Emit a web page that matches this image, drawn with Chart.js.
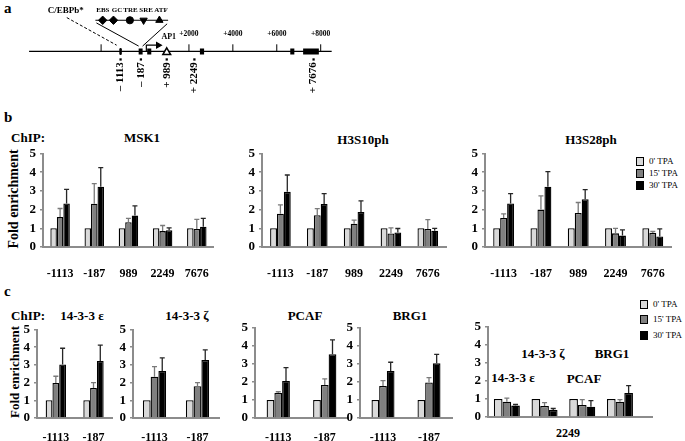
<!DOCTYPE html>
<html><head><meta charset="utf-8">
<script src="https://cdn.jsdelivr.net/npm/chart.js@4.4.0/dist/chart.umd.min.js"></script>
<style>
html,body{margin:0;padding:0;background:#fff;width:685px;height:441px;overflow:hidden;font-family:'Liberation Serif','Times New Roman',serif;}
.abs{position:absolute;white-space:nowrap;color:#000;line-height:1;}
.b{font-weight:bold;}
.c{transform:translate(-50%,-50%);}
canvas{position:absolute;}
.lg{position:absolute;font-size:9px;line-height:1;white-space:nowrap;}
.lg span{display:inline-block;width:6px;height:7px;border:1px solid #000;vertical-align:middle;margin-right:5px;}
</style></head><body>

<div class="abs b" style="left:4px;top:1px;font-size:15px;">a</div>
<div class="abs b" style="left:4px;top:110px;font-size:15px;">b</div>
<div class="abs b" style="left:4px;top:284px;font-size:15px;">c</div>

<div class="abs b c" style="left:28px;top:137px;font-size:13px;">ChIP:</div>
<div class="abs b c" style="left:142px;top:137px;font-size:13px;">MSK1</div>
<div class="abs b c" style="left:363px;top:139px;font-size:13px;">H3S10ph</div>
<div class="abs b c" style="left:591px;top:139px;font-size:13px;">H3S28ph</div>
<div class="abs b c" style="left:14px;top:199px;font-size:14px;transform:translate(-50%,-50%) rotate(-90deg);">Fold enrichment</div>

<div class="abs b c" style="left:28px;top:315px;font-size:13px;">ChIP:</div>
<div class="abs b c" style="left:82px;top:315px;font-size:13px;">14-3-3 ε</div>
<div class="abs b c" style="left:187px;top:315px;font-size:13px;">14-3-3 ζ</div>
<div class="abs b c" style="left:305px;top:315px;font-size:13px;">PCAF</div>
<div class="abs b c" style="left:410px;top:315px;font-size:13px;">BRG1</div>
<div class="abs b c" style="left:14px;top:372px;font-size:13px;transform:translate(-50%,-50%) rotate(-90deg);">Fold enrichment</div>

<div class="abs b c" style="left:513px;top:377px;font-size:13px;">14-3-3 ε</div>
<div class="abs b c" style="left:543px;top:353px;font-size:13px;">14-3-3 ζ</div>
<div class="abs b c" style="left:584px;top:378px;font-size:13px;">PCAF</div>
<div class="abs b c" style="left:612px;top:353px;font-size:13px;">BRG1</div>
<div class="abs b c" style="left:568px;top:433px;font-size:12px;">2249</div>

<div id="legB"></div><div id="legC"></div>

<script>
// ---------- data ----------
const TIMES = ["0' TPA", "15' TPA", "30' TPA"];

// panel a (gene map, bp relative to TSS)
const geneSpan = [-5280, 8500];
const scaleTicks = [-2000, 2000, 4000, 6000, 8000];
const scaleTickLabels = ['', '+2000', '+4000', '+6000', '+8000'];
const exonStart = [-290, 100, 2500, 6615, 7200];
const exonEnd = [-110, 285, 2690, 6800, 7916];
const ampliconPos = [-1113, -187, 989, 2249, 7676];
const ampliconText = ['\u2013 1113', '\u2013 187', '+ 989', '+ 2249', '+ 7676'];
const cebpSite = -1113;
const ap1Site = 989;
const insetRange = [-300, 50];
const insetNames = ['EBS', 'GC', 'TRE', 'SRE', 'ATF'];
const insetPos = [-265, -213, -134, -68, 8];
const insetLabelPos = [-264, -196, -131, -56, 16];

// panel b
const regionsB = ['-1113', '-187', '989', '2249', '7676'];
const msk1_0 = [1, 1, 1, 1, 1];
const msk1_15 = [1.6, 2.31, 1.32, 0.85, 0.96];
const msk1_15err = [0.46, 1.08, 0.21, 0.3, 0.52];
const msk1_30 = [2.33, 3.22, 1.68, 0.9, 1.08];
const msk1_30err = [0.75, 1.03, 0.52, 0.12, 0.45];

const s10_0 = [1, 1, 1, 1, 1];
const s10_15 = [1.78, 1.7, 1.24, 0.72, 0.96];
const s10_15err = [0.47, 0.35, 0.2, 0.3, 0.5];
const s10_30 = [2.95, 2.3, 1.87, 0.78, 0.87];
const s10_30err = [0.9, 0.55, 0.6, 0.21, 0.13];

const s28_0 = [1, 1, 1, 1, 1];
const s28_15 = [1.55, 2.0, 1.82, 0.73, 0.75];
const s28_15err = [0.22, 0.73, 0.56, 0.27, 0.08];
const s28_30 = [2.33, 3.22, 2.55, 0.61, 0.56];
const s28_30err = [0.52, 0.81, 0.52, 0.31, 0.41];

// panel c
const regionsC = ['-1113', '-187'];
const eps_0 = [1, 1];
const eps_15 = [1.98, 1.7];
const eps_15err = [0.38, 0.3];
const eps_30 = [3.02, 3.22];
const eps_30err = [0.92, 0.9];

const zeta_0 = [1, 1];
const zeta_15 = [2.33, 1.79];
const zeta_15err = [0.57, 0.21];
const zeta_30 = [2.66, 3.27];
const zeta_30err = [0.74, 0.58];

const pcaf_0 = [1, 1];
const pcaf_15 = [1.38, 1.83];
const pcaf_15err = [0.07, 0.33];
const pcaf_30 = [2.05, 3.52];
const pcaf_30err = [0.73, 0.8];

const brg1_0 = [1, 1];
const brg1_15 = [1.77, 1.96];
const brg1_15err = [0.3, 0.27];
const brg1_30 = [2.6, 3.02];
const brg1_30err = [0.48, 0.5];

const factors2249 = ['14-3-3 ε', '14-3-3 ζ', 'PCAF', 'BRG1'];
const r2249_0 = [1, 1, 1, 1];
const r2249_15 = [0.84, 0.61, 0.66, 0.84];
const r2249_15err = [0.2, 0.18, 0.3, 0.12];
const r2249_30 = [0.63, 0.39, 0.57, 1.33];
const r2249_30err = [0.06, 0.08, 0.33, 0.4];

// ---------- styles ----------
const FILLS = ['#d9d9d9', '#808080', '#000000'];
const ERRCOL = [null, '#7a7a7a', '#262626'];
const AXIS = '#8c8c8c';
const SERIF = "'Liberation Serif','Times New Roman',serif";

Chart.defaults.font.family = SERIF;
Chart.defaults.color = '#000';

const errorBarPlugin = {
  id: 'errbars',
  afterDatasetsDraw(chart) {
    const ctx = chart.ctx, ys = chart.scales.y;
    chart.data.datasets.forEach((ds, di) => {
      if (!ds.errors) return;
      const meta = chart.getDatasetMeta(di);
      meta.data.forEach((bar, j) => {
        const v = ds.data[j].y, e = ds.errors[j];
        const top = ys.getPixelForValue(v + e);
        ctx.save();
        ctx.strokeStyle = ds.errColor; ctx.lineWidth = 1.3;
        ctx.beginPath();
        ctx.moveTo(bar.x, bar.y); ctx.lineTo(bar.x, top);
        ctx.moveTo(bar.x - 2.5, top); ctx.lineTo(bar.x + 2.5, top);
        ctx.stroke(); ctx.restore();
      });
    });
  }
};

function barChart(rect, cats, vals, errs, opt) {
  const padL = 30, padT = 8, padR = 2, padB = 30;
  const cv = document.createElement('canvas');
  const w = Math.round(rect.r - rect.l + padL + padR), h = Math.round(rect.b - rect.t + padT + padB);
  cv.width = w; cv.height = h;
  cv.style.left = (rect.l - padL) + 'px'; cv.style.top = (rect.t - padT) + 'px';
  cv.style.width = w + 'px'; cv.style.height = h + 'px';
  document.body.appendChild(cv);
  const n = cats.length;
  new Chart(cv, {
    type: 'bar',
    data: {
      datasets: vals.map((arr, i) => ({
        label: TIMES[i],
        data: arr.map((v, j) => ({ x: j, y: v })),
        errors: errs[i], errColor: ERRCOL[i],
        backgroundColor: FILLS[i], borderColor: '#000', borderWidth: 1.3,
        categoryPercentage: opt.cp, barPercentage: 1
      }))
    },
    options: {
      responsive: false, animation: false,
      layout: { padding: { top: padT, right: padR, left: 0, bottom: 0 } },
      plugins: { legend: { display: false }, tooltip: { enabled: false } },
      scales: {
        x: {
          type: 'linear', offset: false, min: -0.5, max: opt.xmax !== undefined ? opt.xmax : n - 0.5,
          afterBuildTicks: s => { s.ticks = cats.map((c, j) => ({ value: j })); },
          ticks: {
            callback: v => opt.hideX ? '' : cats[v], autoSkip: false, maxRotation: 0,
            font: { weight: 'bold', size: 12 }, color: '#000', padding: opt.xpad
          },
          grid: { display: false, drawTicks: false },
          border: { color: AXIS, width: 2 },
          afterFit: s => { s.height = padB; }
        },
        y: {
          min: 0, max: 5,
          ticks: { stepSize: 1, autoSkip: false, font: { weight: 'bold', size: 13, lineHeight: 1 }, color: '#000', padding: 4 },
          grid: { drawOnChartArea: false, drawTicks: true, tickLength: 3, color: AXIS, lineWidth: 1.5 },
          border: { color: AXIS, width: 2 },
          afterFit: s => { s.width = padL; }
        }
      }
    },
    plugins: [errorBarPlugin]
  });
}

// panel b
barChart({ l: 43, r: 227, t: 150.7, b: 246.7 }, regionsB, [msk1_0, msk1_15, msk1_30], [null, msk1_15err, msk1_30err], { cp: 0.57, xpad: 20 });
barChart({ l: 262, r: 458, t: 150.7, b: 246.7 }, regionsB, [s10_0, s10_15, s10_30], [null, s10_15err, s10_30err], { cp: 0.56, xpad: 20 });
barChart({ l: 485, r: 683, t: 150.7, b: 246.7 }, regionsB, [s28_0, s28_15, s28_30], [null, s28_15err, s28_30err], { cp: 0.56, xpad: 20 });
// panel c
barChart({ l: 37, r: 116, t: 327, b: 418.3 }, regionsC, [eps_0, eps_15, eps_30], [null, eps_15err, eps_30err], { cp: 0.54, xpad: 13 });
barChart({ l: 133.3, r: 220, t: 327, b: 418.3 }, regionsC, [zeta_0, zeta_15, zeta_30], [null, zeta_15err, zeta_30err], { cp: 0.54, xpad: 13 });
barChart({ l: 255, r: 348, t: 325, b: 418.3 }, regionsC, [pcaf_0, pcaf_15, pcaf_30], [null, pcaf_15err, pcaf_30err], { cp: 0.5, xpad: 13 });
barChart({ l: 360, r: 452, t: 325, b: 418.3 }, regionsC, [brg1_0, brg1_15, brg1_30], [null, brg1_15err, brg1_30err], { cp: 0.5, xpad: 13 });
barChart({ l: 488.3, r: 652, t: 324, b: 417.3 }, factors2249, [r2249_0, r2249_15, r2249_30], [null, r2249_15err, r2249_30err], { cp: 0.69, xpad: 13, xmax: 3.85, hideX: true });

// legends
function legend(id, left, tops) {
  const el = document.getElementById(id);
  TIMES.forEach((t, i) => {
    const d = document.createElement('div');
    d.className = 'lg';
    d.style.left = left + 'px'; d.style.top = tops[i] + 'px';
    d.innerHTML = '<span style="background:' + FILLS[i] + '"></span>' + t;
    el.appendChild(d);
  });
}
legend('legB', 636, [157, 169, 181]);
legend('legC', 640, [300, 315, 331]);

// panel a: gene map
(function () {
  const cv = document.createElement('canvas');
  cv.width = 685; cv.height = 110;
  cv.style.left = '0px'; cv.style.top = '0px'; cv.style.width = '685px'; cv.style.height = '110px';
  document.body.appendChild(cv);
  const pxPerBp = 0.02235, zeroPx = 141.5;
  const insetPx = [91, 165];
  const ipb = (insetPx[1] - insetPx[0]) / (insetRange[1] - insetRange[0]);
  const seg = (a, b, y0, y1) => [{ x: a, y: y0 }, { x: b, y: y1 }, { x: b, y: null }];
  const ticksData = scaleTicks.flatMap(t => seg(t, t, 0, 8));
  const exonData = exonStart.flatMap((s, i) => seg(s, exonEnd[i], 0, 0));
  const textPlugin = {
    id: 'mapText',
    afterDatasetsDraw(chart) {
      const ctx = chart.ctx, X = chart.scales.x, Y = chart.scales.y, XI = chart.scales.xi;
      ctx.save();
      ctx.fillStyle = '#000'; ctx.strokeStyle = '#000';
      ctx.lineWidth = 1;
      ctx.beginPath();
      ctx.moveTo(XI.getPixelForValue(insetRange[0]) + 1, Y.getPixelForValue(32));
      ctx.lineTo(X.getPixelForValue(exonStart[0]), Y.getPixelForValue(6));
      ctx.moveTo(XI.getPixelForValue(insetRange[1]) - 1, Y.getPixelForValue(31));
      ctx.lineTo(X.getPixelForValue(exonEnd[0]), Y.getPixelForValue(6));
      ctx.stroke();
      ctx.setLineDash([3, 2]);
      ctx.beginPath();
      ctx.moveTo(X.getPixelForValue(cebpSite - 2450), Y.getPixelForValue(38));
      ctx.lineTo(X.getPixelForValue(cebpSite - 180), Y.getPixelForValue(7));
      ctx.stroke();
      ctx.setLineDash([]);
      ctx.textAlign = 'center'; ctx.textBaseline = 'middle';
      ctx.font = "bold 9px " + SERIF;
      ctx.fillText('C/EBPb*', X.getPixelForValue(cebpSite - 2500), Y.getPixelForValue(46));
      ctx.font = "bold 7px " + SERIF;
      insetNames.forEach((nm, i) => ctx.fillText(nm, XI.getPixelForValue(insetLabelPos[i]), Y.getPixelForValue(46)));
      ctx.font = "bold 7.5px " + SERIF;
      scaleTicks.forEach((t, i) => { if (scaleTickLabels[i]) ctx.fillText(scaleTickLabels[i], X.getPixelForValue(t), Y.getPixelForValue(20)); });
      ctx.font = "bold 8px " + SERIF;
      ctx.fillText('AP1', X.getPixelForValue(ap1Site) + 2, Y.getPixelForValue(16));
      ctx.font = "bold 11px " + SERIF;
      ctx.textAlign = 'right';
      ampliconPos.forEach((p, i) => {
        ctx.save();
        ctx.translate(X.getPixelForValue(p), Y.getPixelForValue(-12));
        ctx.rotate(-Math.PI / 2);
        ctx.fillText(ampliconText[i], 0, 0);
        ctx.restore();
      });
      ctx.restore();
    }
  };
  new Chart(cv, {
    type: 'scatter',
    data: {
      datasets: [
        { type: 'scatter', data: [{ x: ap1Site, y: -1 }], pointStyle: 'triangle', pointRadius: 4.5,
          backgroundColor: '#fff', borderColor: '#000', borderWidth: 1.5 },
        { type: 'scatter', xAxisID: 'xi', data: insetPos.map(p => ({ x: p, y: 35 })),
          pointStyle: ['rectRot', 'rectRot', 'circle', 'triangle', 'triangle'],
          rotation: [0, 0, 0, 180, 0], pointRadius: [4.2, 4.2, 3.6, 4.2, 4.2],
          backgroundColor: '#000', borderColor: '#000', borderWidth: 1 },
        { type: 'line', xAxisID: 'xi', data: [{ x: insetRange[0], y: 35 }, { x: insetRange[1], y: 35 }],
          borderColor: '#000', borderWidth: 1.2, pointRadius: 0 },
        { type: 'scatter', data: ampliconPos.map(p => ({ x: p, y: -9 })), pointStyle: 'rect',
          pointRadius: 1.6, backgroundColor: '#000', borderColor: '#000', borderWidth: 0 },
        { type: 'line', data: [{ x: 60, y: 0 }, { x: 60, y: 7 }, { x: 600, y: 7 }],
          borderColor: '#000', borderWidth: 1.2, pointRadius: [0, 0, 3.2], pointStyle: 'triangle',
          pointRotation: 90, pointBackgroundColor: '#000', pointBorderColor: '#000' },
        { type: 'line', data: [{ x: cebpSite, y: -2.5 }, { x: cebpSite, y: 2.5 }],
          borderColor: '#000', borderWidth: 2.5, borderCapStyle: 'round', pointRadius: 0 },
        { type: 'line', data: exonData, borderColor: '#000', borderWidth: 6, borderCapStyle: 'butt',
          pointRadius: 0, spanGaps: false },
        { type: 'line', data: ticksData, borderColor: '#000', borderWidth: 1, pointRadius: 0, spanGaps: false },
        { type: 'line', data: [{ x: geneSpan[0], y: 0 }, { x: geneSpan[1], y: 0 }],
          borderColor: '#000', borderWidth: 1.2, pointRadius: 0 }
      ]
    },
    options: {
      responsive: false, animation: false,
      layout: { padding: 0 },
      plugins: { legend: { display: false }, tooltip: { enabled: false } },
      scales: {
        x: { type: 'linear', display: false, min: -zeroPx / pxPerBp, max: (685 - zeroPx) / pxPerBp },
        xi: { type: 'linear', display: false, min: insetRange[0] - insetPx[0] / ipb, max: insetRange[0] + (685 - insetPx[0]) / ipb },
        y: { type: 'linear', display: false, min: -59, max: 51 }
      }
    },
    plugins: [textPlugin]
  });
})();
</script>
</body></html>
